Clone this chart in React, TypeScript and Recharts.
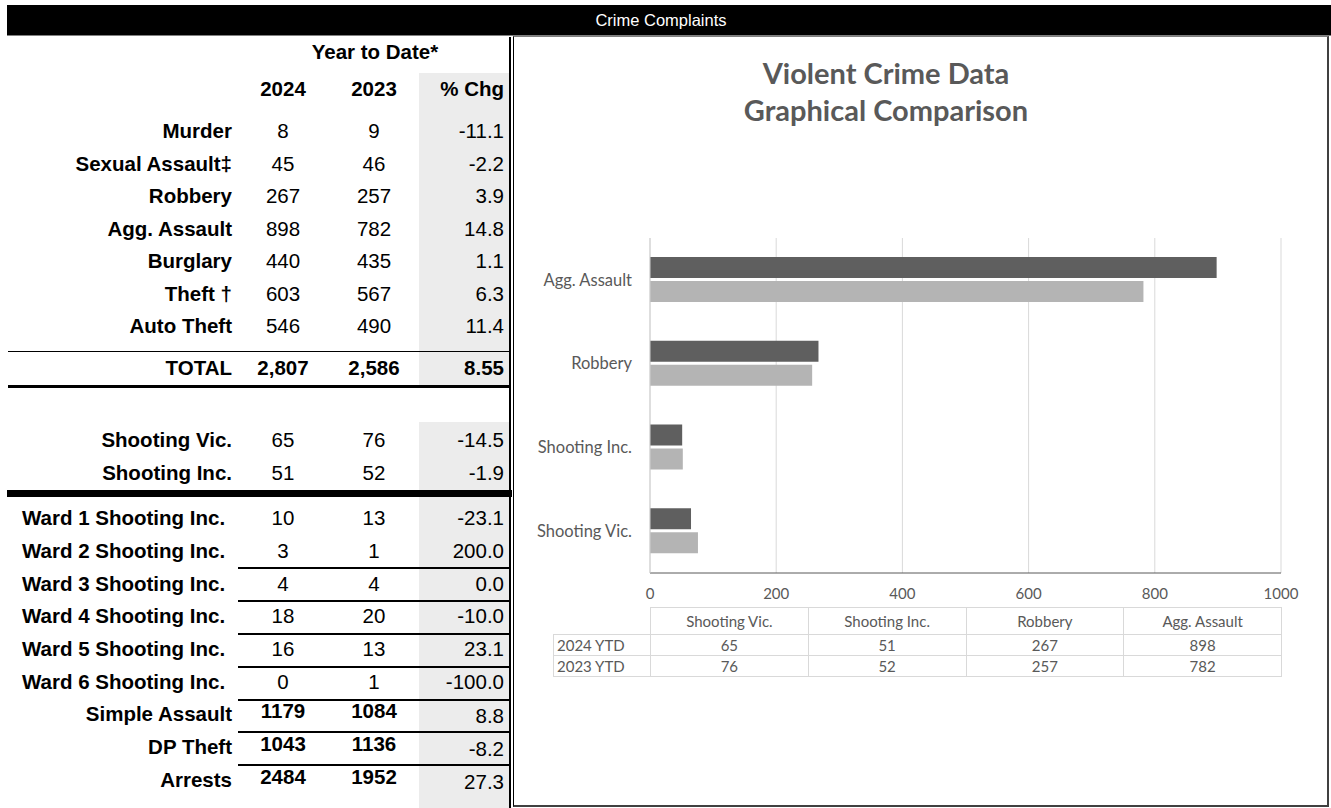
import React from 'react';
import { BarChart, Bar, XAxis, YAxis, CartesianGrid } from 'recharts';

// ---------- data: left table ----------
const crimeLabels = ['Murder', 'Sexual Assault‡', 'Robbery', 'Agg. Assault', 'Burglary', 'Theft †', 'Auto Theft'];
const crime2024 = ['8', '45', '267', '898', '440', '603', '546'];
const crime2023 = ['9', '46', '257', '782', '435', '567', '490'];
const crimePct = ['-11.1', '-2.2', '3.9', '14.8', '1.1', '6.3', '11.4'];

const totalRow = ['TOTAL', '2,807', '2,586', '8.55'];

const shootLabels = ['Shooting Vic.', 'Shooting Inc.'];
const shoot2024 = ['65', '51'];
const shoot2023 = ['76', '52'];
const shootPct = ['-14.5', '-1.9'];

const wardLabels = ['Ward 1 Shooting Inc.', 'Ward 2 Shooting Inc.', 'Ward 3 Shooting Inc.', 'Ward 4 Shooting Inc.', 'Ward 5 Shooting Inc.', 'Ward 6 Shooting Inc.'];
const ward2024 = ['10', '3', '4', '18', '16', '0'];
const ward2023 = ['13', '1', '4', '20', '13', '1'];
const wardPct = ['-23.1', '200.0', '0.0', '-10.0', '23.1', '-100.0'];

const otherLabels = ['Simple Assault', 'DP Theft', 'Arrests'];
const other2024 = ['1179', '1043', '2484'];
const other2023 = ['1084', '1136', '1952'];
const otherPct = ['8.8', '-8.2', '27.3'];

// ---------- data: chart ----------
const categories = ['Shooting Vic.', 'Shooting Inc.', 'Robbery', 'Agg. Assault'];
const series2024 = [65, 51, 267, 898];
const series2023 = [76, 52, 257, 782];
const seriesNames = ['2024 YTD', '2023 YTD'];
const xTicks = [0, 200, 400, 600, 800, 1000];

const chartData = categories.map((c, i) => ({ name: c, y2024: series2024[i], y2023: series2023[i] }));

// ---------- layout ----------
const LEFT_FONT = '"Liberation Sans", Arial, sans-serif';
const CHART_FONT = 'Lato, "Open Sans", sans-serif';
const GREY_TXT = '#595959';
const FS = 20.5;

const crimeY = [131, 163.5, 196, 228.5, 261, 293.5, 326];
const totalY = 368;
const shootY = [440, 473];
const wardY = [518, 551, 583.5, 616, 649, 681.5];
const otherY = [714, 747, 780];

const COL1 = 283;
const COL2 = 374;
const COL3R = 504;
const LABEL_R = 232;

type TProps = { x: number; y: number; text: string; align?: 'left' | 'right' | 'center'; bold?: boolean; size?: number; color?: string; font?: string };
const T = ({ x, y, text, align = 'center', bold = false, size = FS, color = '#000', font = LEFT_FONT }: TProps) => {
  const w = 400;
  const left = align === 'right' ? x - w : align === 'center' ? x - w / 2 : x;
  return (
    <div
      style={{
        position: 'absolute',
        left,
        top: y - 12,
        width: w,
        height: 24,
        lineHeight: '24px',
        textAlign: align,
        fontFamily: font,
        fontSize: size,
        fontWeight: bold ? 700 : 400,
        color,
        whiteSpace: 'nowrap',
      }}
    >
      {text}
    </div>
  );
};

const HLine = ({ x1, x2, y, h, color = '#000' }: { x1: number; x2: number; y: number; h: number; color?: string }) => (
  <div style={{ position: 'absolute', left: x1, top: y, width: x2 - x1, height: h, background: color }} />
);

const Row = ({ y, label, a, b, c, numBold = false, pctBold = false, labelLeft, numDy = 0, pctDy = 0 }: any) => (
  <>
    {labelLeft !== undefined ? (
      <T x={labelLeft} y={y} text={label} align="left" bold />
    ) : (
      <T x={LABEL_R} y={y} text={label} align="right" bold />
    )}
    <T x={COL1} y={y + numDy} text={a} bold={numBold} />
    <T x={COL2} y={y + numDy} text={b} bold={numBold} />
    <T x={COL3R} y={y + pctDy} text={c} align="right" bold={pctBold} />
  </>
);

// chart geometry (page coords)
const CH_LEFT = 514;
const CH_TOP = 36;
const CH_W = 815;
const CH_H = 771;
const PLOT_L = 650;
const PLOT_R = 1281;
const PLOT_T = 238;
const PLOT_B = 573;

const DataTable = () => {
  const colW = (PLOT_R - PLOT_L) / categories.length;
  const rowHeadL = 553;
  const top = 607;
  const rowH = [20, 21, 21];
  const border = '1px solid #d9d9d9';
  const cellStyle = (x: number, y: number, w: number, h: number): React.CSSProperties => ({
    position: 'absolute',
    left: x,
    top: y,
    width: w,
    height: h,
    lineHeight: h - 1 + 'px',
    textAlign: 'center',
    fontFamily: CHART_FONT,
    fontSize: 15,
    color: GREY_TXT,
    boxSizing: 'border-box',
    border,
    whiteSpace: 'nowrap',
  });
  const rows = [series2024, series2023];
  const rowTops = [top + rowH[0] + 7, top + rowH[0] + 7 + rowH[1]];
  return (
    <>
      {categories.map((c, i) => (
        <div key={'h' + i} style={cellStyle(PLOT_L + i * colW, top, colW + 1, rowH[0] + 8)}>{c}</div>
      ))}
      {rows.map((r, ri) => {
        const y = rowTops[ri];
        return (
          <React.Fragment key={'r' + ri}>
            <div style={{ ...cellStyle(rowHeadL, y, PLOT_L - rowHeadL + 1, rowH[ri + 1] + 1), textAlign: 'left', paddingLeft: 3 }}>{seriesNames[ri]}</div>
            {r.map((v, i) => (
              <div key={i} style={cellStyle(PLOT_L + i * colW, y, colW + 1, rowH[ri + 1] + 1)}>{v}</div>
            ))}
          </React.Fragment>
        );
      })}
    </>
  );
};

export default function App() {
  return (
    <div style={{ position: 'relative', width: 1331, height: 808, overflow: 'hidden', background: '#fff' }}>
      <style>{'body{margin:0;}'}</style>

      {/* header bar */}
      <div style={{ position: 'absolute', left: 7, top: 5, width: 1324, height: 30, background: '#000' }} />
      <div style={{ position: 'absolute', left: 7, top: 35, width: 1324, height: 1, background: '#808080' }} />
      <T x={661} y={20} text="Crime Complaints" color="#fff" size={16.5} />

      {/* % change shaded column */}
      <div style={{ position: 'absolute', left: 419, top: 73, width: 90, height: 313, background: '#ececec' }} />
      <div style={{ position: 'absolute', left: 419, top: 422, width: 90, height: 386, background: '#ececec' }} />

      {/* headers */}
      <T x={375} y={52} text="Year to Date*" bold />
      <T x={COL1} y={88.5} text="2024" bold />
      <T x={COL2} y={88.5} text="2023" bold />
      <T x={COL3R} y={88.5} text="% Chg" align="right" bold />

      {crimeLabels.map((l, i) => (
        <Row key={l} y={crimeY[i]} label={l} a={crime2024[i]} b={crime2023[i]} c={crimePct[i]} />
      ))}
      <HLine x1={8} x2={510} y={350.5} h={1.5} />
      <Row y={totalY} label={totalRow[0]} a={totalRow[1]} b={totalRow[2]} c={totalRow[3]} numBold pctBold />
      <HLine x1={8} x2={510} y={385} h={3} />

      {shootLabels.map((l, i) => (
        <Row key={l} y={shootY[i]} label={l} a={shoot2024[i]} b={shoot2023[i]} c={shootPct[i]} />
      ))}
      <HLine x1={7} x2={512} y={490} h={7} />

      {wardLabels.map((l, i) => (
        <Row key={l} y={wardY[i]} label={l} a={ward2024[i]} b={ward2023[i]} c={wardPct[i]} labelLeft={22} />
      ))}
      {otherLabels.map((l, i) => (
        <Row key={l} y={otherY[i]} label={l} a={other2024[i]} b={other2023[i]} c={otherPct[i]} numBold numDy={-3} pctDy={2} />
      ))}
      {[568, 601, 634, 666.5, 699.5, 732, 764.5].map((y, i) => (
        <HLine key={i} x1={238} x2={510} y={y - 1} h={2} />
      ))}

      {/* vertical double rule */}
      <div style={{ position: 'absolute', left: 509, top: 37, width: 1.5, height: 771, background: '#000' }} />

      {/* chart frame */}
      <div
        style={{
          position: 'absolute',
          left: 513,
          top: 36,
          width: 816,
          height: 771,
          boxSizing: 'border-box',
          borderLeft: '1.5px solid #000',
          borderTop: '1px solid #7f7f7f',
          borderRight: '2px solid #404040',
          borderBottom: '2px solid #404040',
        }}
      />

      {/* chart title */}
      <T x={886} y={73} text="Violent Crime Data" bold size={29} color={GREY_TXT} font={CHART_FONT} />
      <T x={886} y={110} text="Graphical Comparison" bold size={29} color={GREY_TXT} font={CHART_FONT} />

      <div style={{ position: 'absolute', left: CH_LEFT, top: CH_TOP }}>
        <BarChart
          width={CH_W}
          height={CH_H}
          data={chartData}
          layout="vertical"
          barGap={3}
          margin={{ top: PLOT_T - CH_TOP, right: CH_LEFT + CH_W - PLOT_R, bottom: CH_TOP + CH_H - PLOT_B - 30, left: 0 }}
        >
          <CartesianGrid horizontal={false} stroke="#d9d9d9" />
          <XAxis
            type="number"
            domain={[0, 1000]}
            ticks={xTicks}
            interval={0}
            height={30}
            tickLine={false}
            tickSize={0}
            tickMargin={15}
            axisLine={{ stroke: '#595959' }}
            tick={{ fill: GREY_TXT, fontSize: 15, fontFamily: CHART_FONT }}
          />
          <YAxis
            type="category"
            dataKey="name"
            reversed
            width={PLOT_L - CH_LEFT}
            tickLine={false}
            tickSize={0}
            tickMargin={18}
            axisLine={{ stroke: '#d0d0d0' }}
            tick={{ fill: GREY_TXT, fontSize: 16.5, fontFamily: CHART_FONT }}
          />
          <Bar dataKey="y2024" name={seriesNames[0]} fill="#5f5f5f" barSize={21} isAnimationActive={false} />
          <Bar dataKey="y2023" name={seriesNames[1]} fill="#b4b4b4" barSize={21} isAnimationActive={false} />
        </BarChart>
      </div>

      <DataTable />
    </div>
  );
}
